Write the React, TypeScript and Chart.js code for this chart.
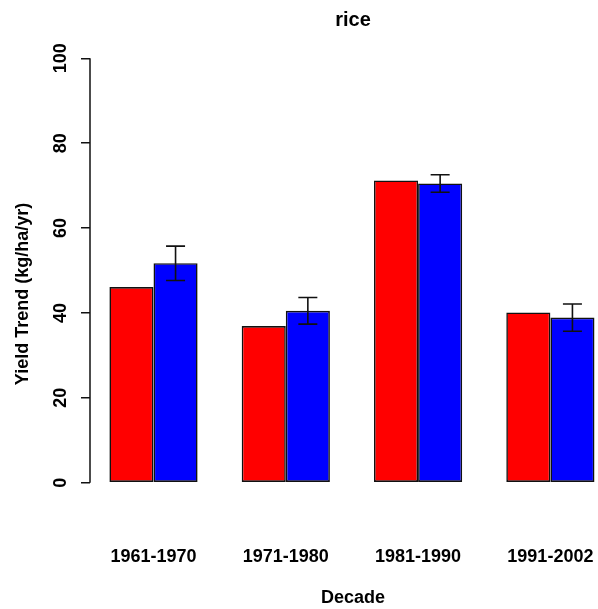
import React, { useEffect, useRef } from "react";
import { Chart, registerables } from "chart.js";

Chart.register(...registerables);

const categories = ["1961-1970", "1971-1980", "1981-1990", "1991-2002"];
const redValues = [46.1, 36.9, 71.2, 40.1];
const blueValues = [51.7, 40.5, 70.5, 38.9];
const blueErrors = [4.05, 3.15, 2.05, 3.2];
const yTicks = [0, 20, 40, 60, 80, 100];

const FONT = "'Liberation Sans', Arial, Helvetica, sans-serif";

const errorBarPlugin = {
  id: "errorBars",
  afterDatasetsDraw(chart: any) {
    const ctx = chart.ctx;
    const yScale = chart.scales.y;
    const meta = chart.getDatasetMeta(1);
    ctx.save();
    ctx.strokeStyle = "#111";
    ctx.lineWidth = 1.6;
    meta.data.forEach((el: any, i: number) => {
      const v = blueValues[i];
      const e = blueErrors[i];
      const x = el.x;
      const yTop = yScale.getPixelForValue(v + e);
      const yBot = yScale.getPixelForValue(v - e);
      ctx.beginPath();
      ctx.moveTo(x, yTop);
      ctx.lineTo(x, yBot);
      ctx.moveTo(x - 9.5, yTop);
      ctx.lineTo(x + 9.5, yTop);
      ctx.moveTo(x - 9.5, yBot);
      ctx.lineTo(x + 9.5, yBot);
      ctx.stroke();
    });
    ctx.restore();
  },
};

const axisLinePlugin = {
  id: "axisLine",
  afterDraw(chart: any) {
    const ctx = chart.ctx;
    const yScale = chart.scales.y;
    const x = chart.chartArea.left;
    ctx.save();
    ctx.strokeStyle = "#111";
    ctx.lineWidth = 1.5;
    ctx.beginPath();
    ctx.moveTo(x, yScale.getPixelForValue(yTicks[0]));
    ctx.lineTo(x, yScale.getPixelForValue(yTicks[yTicks.length - 1]));
    ctx.stroke();
    ctx.restore();
  },
};

export default function App() {
  const ref = useRef<HTMLCanvasElement>(null);

  useEffect(() => {
    if (!ref.current) return;
    const chart = new Chart(ref.current, {
      type: "bar",
      data: {
        datasets: [
          {
            label: "red",
            data: redValues.map((v, i) => ({ x: i + 1, y: v })),
            backgroundColor: "#FF0000",
            borderColor: "#111",
            borderWidth: 1.6,
            borderSkipped: false,
          },
          {
            label: "blue",
            data: blueValues.map((v, i) => ({ x: i + 1, y: v })),
            backgroundColor: "#0000FF",
            borderColor: "#111",
            borderWidth: 1.6,
            borderSkipped: false,
          },
        ],
      },
      plugins: [errorBarPlugin, axisLinePlugin],
      options: {
        animation: false,
        responsive: false,
        devicePixelRatio: 1,
        datasets: {
          bar: { categoryPercentage: 2 / 3, barPercentage: 1 },
        },
        layout: { padding: 0 },
        plugins: {
          legend: { display: false },
          tooltip: { enabled: false },
          title: {
            display: true,
            text: "rice",
            fullSize: false,
            color: "#000",
            font: { family: FONT, size: 20, weight: "bold" },
            padding: { top: 8, bottom: 26.3 },
          },
        },
        scales: {
          x: {
            type: "linear",
            offset: false,
            min: 0.52,
            max: 4.496,
            grid: { display: false, drawTicks: false },
            border: { display: false },
            afterBuildTicks: (s: any) => {
              s.ticks = categories.map((_, i) => ({ value: i + 1 }));
            },
            afterFit: (s: any) => {
              s.height = 79.3;
            },
            ticks: {
              autoSkip: false,
              maxRotation: 0,
              minRotation: 0,
              padding: 16.5,
              color: "#000",
              font: { family: FONT, size: 18, weight: "bold" },
              callback: (v: any) => categories[Math.round(Number(v)) - 1] ?? "",
            },
            title: {
              display: true,
              text: "Decade",
              color: "#000",
              font: { family: FONT, size: 18, weight: "bold" },
              padding: { top: 0, bottom: 0 },
            },
          },
          y: {
            type: "linear",
            min: -11.08,
            max: 100,
            afterBuildTicks: (s: any) => {
              s.ticks = yTicks.map((v) => ({ value: v }));
            },
            afterFit: (s: any) => {
              s.width = 90;
            },
            grid: {
              display: true,
              drawOnChartArea: false,
              drawTicks: true,
              tickLength: 9,
              color: "#111",
              lineWidth: 1.5,
            },
            border: { display: false },
            ticks: {
              minRotation: 90,
              maxRotation: 90,
              crossAlign: "center",
              padding: 4.5,
              color: "#000",
              font: { family: FONT, size: 18, weight: "bold" },
            },
            title: {
              display: true,
              text: "Yield Trend (kg/ha/yr)",
              color: "#000",
              font: { family: FONT, size: 18, weight: "bold" },
              padding: { top: 12.5, bottom: 0 },
            },
          },
        },
      } as any,
    });
    return () => chart.destroy();
  }, []);

  return (
    <div
      style={{
        position: "fixed",
        left: 0,
        top: 0,
        width: 598,
        height: 609,
        overflow: "hidden",
        background: "#fff",
      }}
    >
      <canvas ref={ref} width={616} height={609} style={{ display: "block" }} />
    </div>
  );
}
